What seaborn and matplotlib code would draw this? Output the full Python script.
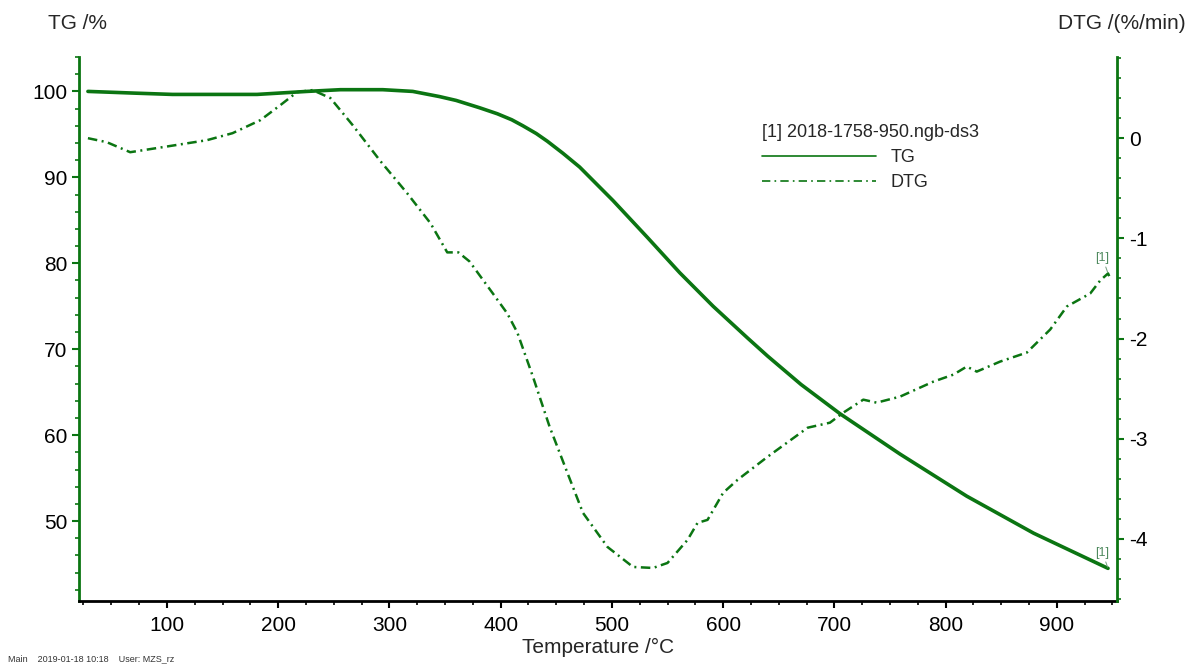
import numpy as np
import pandas as pd
import matplotlib
matplotlib.use('Agg')
import matplotlib.pyplot as plt
from matplotlib.ticker import MultipleLocator
from matplotlib.lines import Line2D
import seaborn as sns

# TG curve
tg_temp = [29, 71, 105, 181, 226, 256, 294, 321, 345, 360, 381, 397, 410, 420, 432,
           442, 456, 471, 501, 532, 561, 591, 622, 640, 670, 705, 759, 819, 879, 946]
tg_val = [100.0, 99.8, 99.65, 99.65, 100.0, 100.2, 100.2, 100.0, 99.4, 98.95, 98.1,
          97.4, 96.7, 96.0, 95.1, 94.2, 92.8, 91.2, 87.3, 83.0, 78.9, 75.0, 71.3,
          69.2, 65.9, 62.5, 57.8, 52.9, 48.6, 44.5]

# DTG curve
dtg_temp = [29, 46, 67, 96, 136, 159, 184, 202, 217, 231, 247, 267, 292, 316, 337,
            352, 362, 372, 393, 406, 415, 429, 444, 460, 474, 496, 519, 537, 550,
            568, 577, 586, 600, 613, 640, 676, 696, 708, 726, 738, 759, 789, 807,
            819, 828, 849, 873, 894, 909, 930, 939, 946, 948]
dtg_val = [0.0, -0.04, -0.14, -0.09, -0.02, 0.05, 0.18, 0.33, 0.46, 0.48, 0.40, 0.13,
           -0.23, -0.55, -0.85, -1.14, -1.14, -1.23, -1.55, -1.75, -1.94, -2.38, -2.88,
           -3.34, -3.74, -4.08, -4.28, -4.29, -4.24, -4.01, -3.84, -3.81, -3.54, -3.41,
           -3.18, -2.89, -2.84, -2.74, -2.61, -2.64, -2.58, -2.43, -2.36, -2.28, -2.33,
           -2.23, -2.14, -1.91, -1.68, -1.55, -1.42, -1.35, -1.40]

tg = pd.DataFrame({'Temperature': tg_temp, 'TG': tg_val})
dtg = pd.DataFrame({'Temperature': dtg_temp, 'DTG': dtg_val})

sns.set_style('white')
plt.rcParams['font.family'] = ['Liberation Sans', 'DejaVu Sans']
plt.rcParams['axes.unicode_minus'] = False

green = '#0b7512'
dash = (0, (3.8, 1.8, 0.8, 1.8))

fig = plt.figure(figsize=(12.01, 6.71), dpi=100)
ax = fig.add_axes([0.0658, 0.1043, 0.8642, 0.8107])
ax2 = ax.twinx()

sns.lineplot(data=tg, x='Temperature', y='TG', ax=ax, color=green, lw=2.6)
sns.lineplot(data=dtg, x='Temperature', y='DTG', ax=ax2, color=green, lw=1.8,
             linestyle=dash)

ax.set_xlim(21, 954)
ax.set_ylim(40.7, 104)
ax2.set_ylim(-4.62, 0.81)

ax.xaxis.set_major_locator(MultipleLocator(100))
ax.xaxis.set_minor_locator(MultipleLocator(25))
ax.yaxis.set_major_locator(MultipleLocator(10))
ax.yaxis.set_minor_locator(MultipleLocator(2))
ax2.yaxis.set_major_locator(MultipleLocator(1))
ax2.yaxis.set_minor_locator(MultipleLocator(0.2))

for a in (ax, ax2):
    a.spines['top'].set_visible(False)
ax.spines['right'].set_visible(False)
ax2.spines['left'].set_visible(False)
ax2.spines['bottom'].set_visible(False)
ax.spines['left'].set_color(green)
ax.spines['left'].set_linewidth(2)
ax2.spines['right'].set_color(green)
ax2.spines['right'].set_linewidth(2)
ax.spines['bottom'].set_color('black')
ax.spines['bottom'].set_linewidth(2)

ax.tick_params(axis='x', which='major', direction='out', length=5, width=1.5,
               colors='black', labelsize=15, pad=6, bottom=True)
ax.tick_params(axis='x', which='minor', direction='out', length=3, width=1.2,
               colors='black', bottom=True)
ax.tick_params(axis='y', which='major', direction='out', length=5, width=1.5,
               color=green, labelcolor='black', labelsize=15, left=True)
ax.tick_params(axis='y', which='minor', direction='out', length=3, width=1.2,
               color=green, left=True)
ax2.tick_params(axis='y', which='major', direction='out', length=5, width=1.5,
                color=green, labelcolor='black', labelsize=15, right=True)
ax2.tick_params(axis='y', which='minor', direction='out', length=3, width=1.2,
                color=green, right=True)

ax.set_xlabel('Temperature /°C', fontsize=15, labelpad=2)
ax.set_ylabel('')
ax2.set_ylabel('')
ax.grid(False)
ax2.grid(False)

fig.text(0.040, 0.965, 'TG /%', fontsize=15, ha='left', va='center')
fig.text(0.987, 0.965, 'DTG /(%/min)', fontsize=15, ha='right', va='center')
fig.text(0.007, 0.018, 'Main    2019-01-18 10:18    User: MZS_rz', fontsize=6.5,
         ha='left', va='center', color='#333333')

# curve end markers
lead = dict(arrowstyle='-', color='#6f9a7a', lw=0.7, shrinkA=0, shrinkB=1)
ax.annotate('[1]', xy=(tg_temp[-1], tg_val[-1]), xytext=(-4, 7),
            textcoords='offset points', ha='center', va='bottom', fontsize=9,
            color='#4f8a5f', arrowprops=lead)
ax2.annotate('[1]', xy=(dtg_temp[-2], dtg_val[-2]), xytext=(-4, 7),
             textcoords='offset points', ha='center', va='bottom', fontsize=9,
             color='#4f8a5f', arrowprops=lead)

handles = [Line2D([], [], color=green, lw=1.2),
           Line2D([], [], color=green, lw=1.2, linestyle=(0, (5, 2.5, 1, 2.5)))]
leg = ax2.legend(handles, ['TG', 'DTG'], title='[1] 2018-1758-950.ngb-ds3',
                 loc='upper left', bbox_to_anchor=(0.648, 0.897), frameon=False,
                 fontsize=13, title_fontsize=13, handlelength=6.3,
                 handletextpad=0.8, labelspacing=0.45, alignment='left',
                 borderaxespad=0.2)

fig.savefig('out.png', dpi=100)
